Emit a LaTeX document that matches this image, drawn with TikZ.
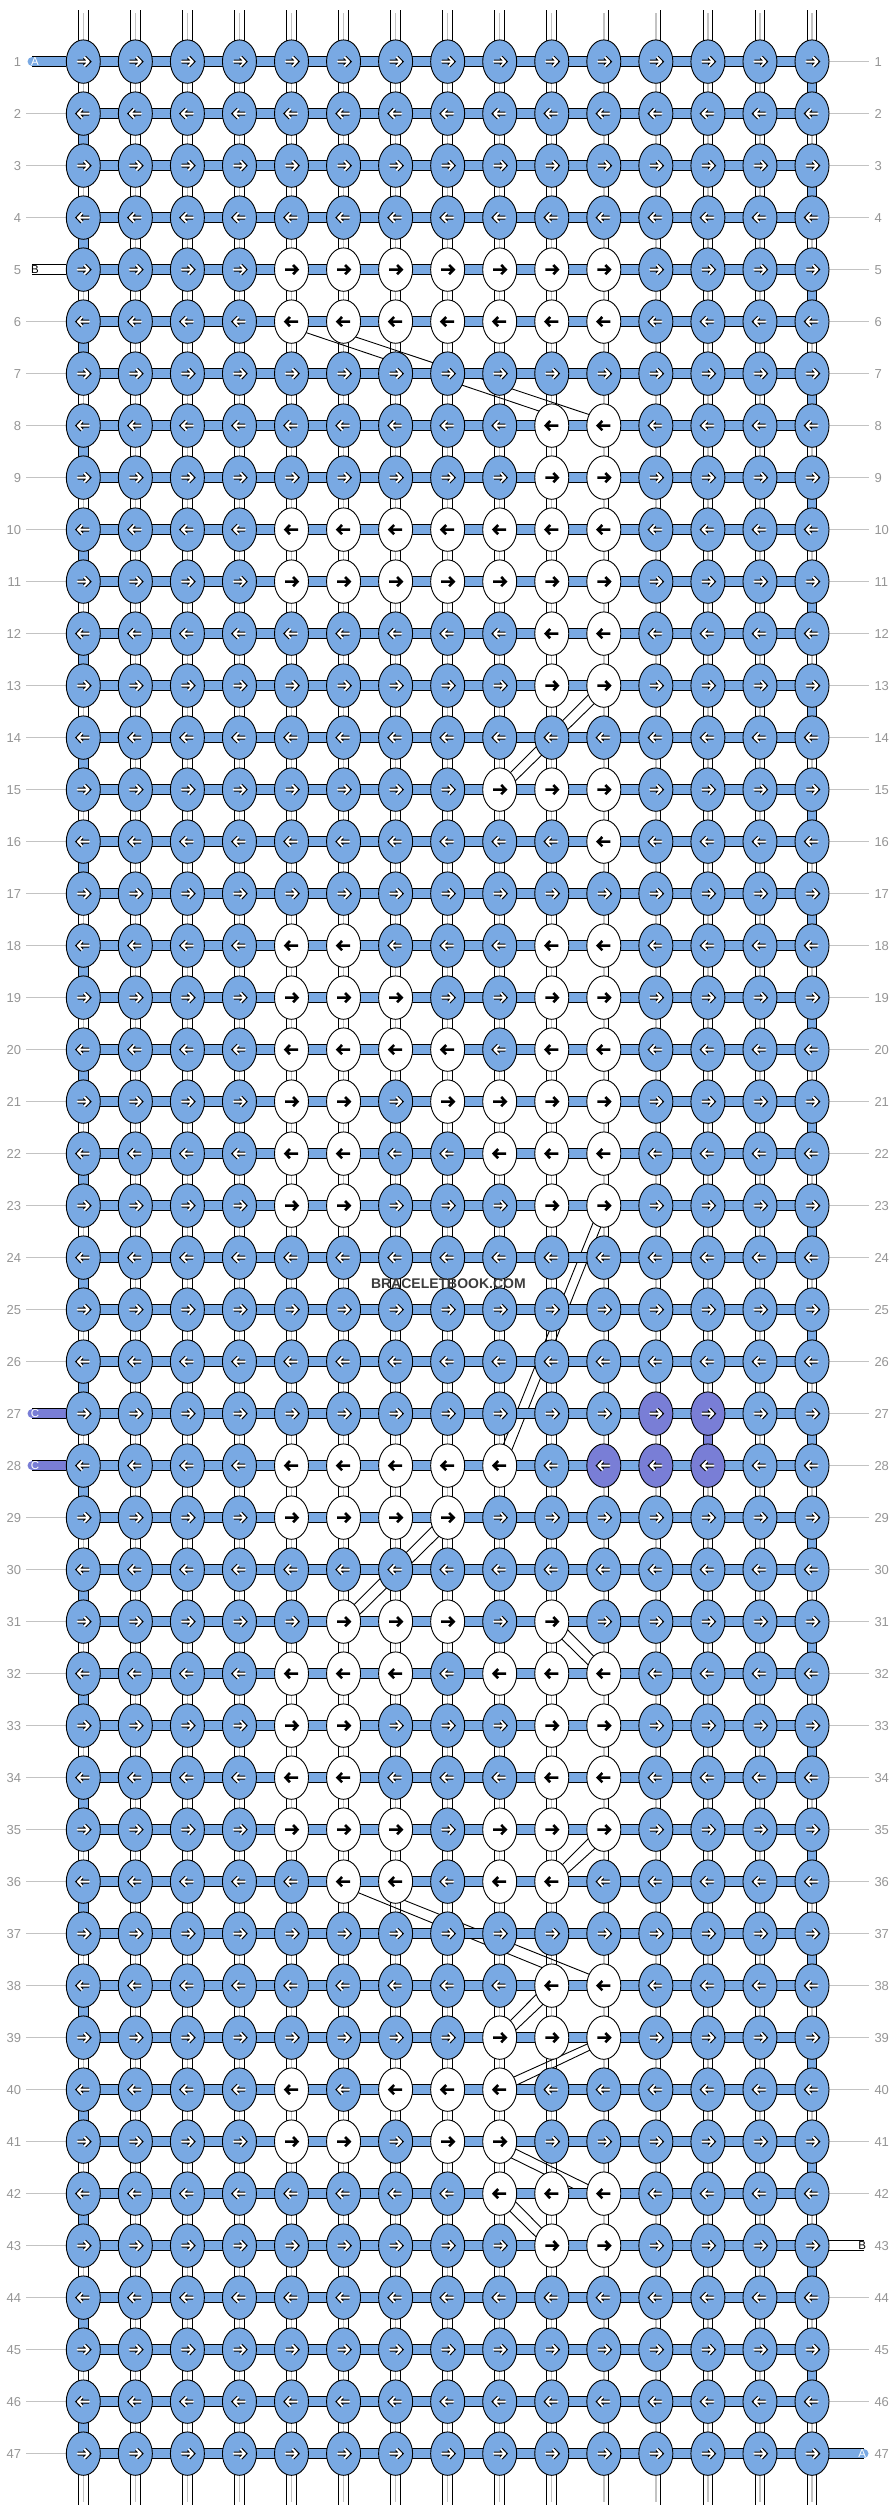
\documentclass[tikz,border=0pt]{standalone}
\usepackage{fontspec}
\setmainfont{Liberation Sans}
\usetikzlibrary{shapes.geometric}
\definecolor{blueA}{RGB}{121,169,227}
\definecolor{purpC}{RGB}{121,126,214}
\definecolor{lblgray}{RGB}{150,150,150}
\definecolor{linegray}{RGB}{195,195,195}
\definecolor{strgray}{RGB}{195,195,195}
\definecolor{wmgray}{RGB}{60,60,60}
\colorlet{fillB}{blueA}
\colorlet{fillW}{white}
\colorlet{fillP}{purpC}
\pgfdeclarelayer{lbg}
\pgfdeclarelayer{lstr}
\pgfdeclarelayer{ldiag}
\pgfdeclarelayer{lband}
\pgfsetlayers{lbg,lstr,ldiag,lband,main}
\def\setkind#1#2#3{\expandafter\gdef\csname kc#1-#2\endcsname{#3}}
\def\getkind#1#2{\ifcsname kc#1-#2\endcsname\csname kc#1-#2\endcsname\else B\fi}
\def\kindW{W}
\foreach \c in {5,...,11}{\setkind{5}{\c}{W}\setkind{6}{\c}{W}\setkind{10}{\c}{W}\setkind{11}{\c}{W}}
\foreach \r/\c in {8/10,8/11,9/10,9/11,12/10,12/11,13/10,13/11,15/9,15/10,15/11,16/11,
18/5,18/6,18/10,18/11,19/5,19/6,19/7,19/10,19/11,20/5,20/6,20/7,20/8,20/10,20/11,
21/5,21/6,21/8,21/9,21/10,21/11,22/5,22/6,22/9,22/10,22/11,23/5,23/6,23/10,23/11,
28/5,28/6,28/7,28/8,28/9,29/5,29/6,29/7,29/8,31/6,31/7,31/8,31/10,
32/5,32/6,32/7,32/9,32/10,32/11,33/5,33/6,33/10,33/11,34/5,34/6,34/10,34/11,
35/5,35/6,35/7,35/9,35/10,35/11,36/6,36/7,36/9,36/10,38/10,38/11,39/9,39/10,39/11,
40/5,40/7,40/8,40/9,41/5,41/6,41/8,41/9,42/9,42/10,42/11,43/10,43/11}{\setkind{\r}{\c}{W}}
\foreach \r/\c in {27/12,27/13,28/11,28/12,28/13}{\setkind{\r}{\c}{P}}

\begin{document}
\begin{tikzpicture}[x=1pt,y=-1pt,
  knot/.style={ellipse, draw=black, line width=0.9pt, minimum width=34pt, minimum height=43.4pt, inner sep=0pt, outer sep=0pt},
  arrowB/.style={draw=white, line width=1.9pt, line cap=round, line join=round, preaction={draw=black, line width=4.1pt}},
  arrowW/.style={draw=black, line width=2.6pt, line cap=butt, line join=miter},
  strandO/.style={draw=white, line width=8.8pt, line cap=round, preaction={draw=black, line width=10.6pt}},
  strandC/.style={draw=strgray, line width=1.4pt},
  bandA/.style={draw=blueA, line width=9.6pt, preaction={draw=black, line width=11.4pt}},
  bandW/.style={bandA, draw=white},
  bandP/.style={bandA, draw=purpC},
  vbarA/.style={draw=blueA, line width=8.8pt, preaction={draw=black, line width=10.6pt}},
  vbarP/.style={vbarA, draw=purpC},
  diag/.style={draw=black, line width=0.9pt},
  lbl/.style={text=lblgray, font=\fontsize{13}{13}\selectfont, inner sep=0pt},
  lblline/.style={draw=linegray, line width=1pt},
  stublbl/.style={font=\fontsize{11.5}{11.5}\selectfont, inner sep=0pt}
]
\begin{pgfonlayer}{lbg}
\fill[white] (0,0) rectangle (896,2516);
\end{pgfonlayer}
\useasboundingbox (0,0) rectangle (896,2516);

% knots, arrows, row labels
\foreach \r in {1,...,47}{
  \ifodd\r\relax \def\dir{1}\else \def\dir{-1}\fi
  \node[lbl, anchor=east] (ll\r) at (21.3,{61.6+52*(\r-1)}) {\r};
  \node[lbl, anchor=west] (rl\r) at (874.3,{61.6+52*(\r-1)}) {\r};
  \foreach \c in {1,...,15}{
    \edef\kind{\getkind{\r}{\c}}
    \node[knot, fill=fill\kind] (k\r-\c) at ({83.3+52.05*(\c-1)},{61.6+52*(\r-1)}) {};
    \ifx\kind\kindW
      \draw[arrowW, shift={(k\r-\c.center)}, xscale=\dir] (-6.5,0) -- (6,0) (1.5,-4.6) -- (6,0) -- (1.5,4.6);
    \else
      \draw[arrowB, shift={(k\r-\c.center)}, xscale=\dir] (-5.7,0) -- (5.5,0) (1.3,-4.3) -- (5.5,0) -- (1.3,4.3);
    \fi
  }
}

% vertical strings and label lines
\begin{pgfonlayer}{lstr}
\foreach \c in {1,...,15}{
  \coordinate (st\c) at ({83.3+52.05*(\c-1)},10.3);
  \coordinate (sb\c) at ({83.3+52.05*(\c-1)},2504.7);
  \coordinate (gt\c) at ({83.3+52.05*(\c-1)},13);
  \coordinate (gb\c) at ({83.3+52.05*(\c-1)},2502);
  \draw[strandO] (st\c) -- (sb\c);
  \draw[strandC] (gt\c) -- (gb\c);
}
\foreach \r in {2,3,4,6,7,...,26,29,30,...,47}{
  \coordinate (la\r) at (26,{61.6+52*(\r-1)});
  \draw[lblline] (la\r) -- (k\r-1);
}
\foreach \r in {1,...,42,44,45,46}{
  \coordinate (ra\r) at (869.3,{61.6+52*(\r-1)});
  \draw[lblline] (k\r-15) -- (ra\r);
}
\end{pgfonlayer}

% diagonal carried strands
\begin{pgfonlayer}{ldiag}
\draw[diag] (k6-5.323) -- (k8-10.131);
\draw[diag] (k6-6.308) -- (k8-11.143);
\draw[diag] (k13-11.211) -- (k15-9.58);
\draw[diag] (k13-11.242) -- (k15-9.29);
\draw[diag] (k23-11.238) -- (k28-9.80);
\draw[diag] (k23-11.262) -- (k28-9.52);
\draw[diag] (k29-8.210) -- (k31-6.58);
\draw[diag] (k29-8.245) -- (k31-6.24);
\draw[diag] (k31-10.333) -- (k32-11.120);
\draw[diag] (k31-10.300) -- (k32-11.151);
\draw[diag] (k35-11.210) -- (k36-10.58);
\draw[diag] (k35-11.245) -- (k36-10.28);
\draw[diag] (k36-6.323) -- (k38-10.118);
\draw[diag] (k36-7.295) -- (k38-11.142);
\draw[diag] (k38-10.210) -- (k39-9.58);
\draw[diag] (k38-10.245) -- (k39-9.25);
\draw[diag] (k39-11.201) -- (k40-9.42);
\draw[diag] (k39-11.222) -- (k40-9.15);
\draw[diag] (k41-9.335) -- (k42-11.150);
\draw[diag] (k41-9.305) -- (k42-11.185);
\draw[diag] (k42-9.333) -- (k43-10.120);
\draw[diag] (k42-9.300) -- (k43-10.151);
\end{pgfonlayer}

% working thread: edge turns, row bands, stubs
\begin{pgfonlayer}{lband}
\foreach \r in {2,4,...,46}{
  \pgfmathtruncatemacro\rn{\r+1}
  \draw[vbarA] (k\r-1) -- (k\rn-1);
}
\foreach \r in {1,3,...,45}{
  \pgfmathtruncatemacro\rn{\r+1}
  \draw[vbarA] (k\r-15) -- (k\rn-15);
}
\draw[vbarP] (k27-13) -- (k28-13);
\foreach \r in {1,...,47}{
  \draw[bandA] (k\r-1) -- (k\r-15);
}
\coordinate (sl1) at (32.3,61.6);
\coordinate (sl5) at (32.3,269.6);
\coordinate (sl27) at (32.3,1413.6);
\coordinate (sl28) at (32.3,1465.6);
\coordinate (sr43) at (863.7,2245.6);
\coordinate (sr47) at (863.7,2453.6);
\draw[bandA, line cap=round] (sl1) -- (k1-1);
\draw[bandW, line cap=round] (sl5) -- (k5-1);
\draw[bandP, line cap=round] (sl27) -- (k27-1);
\draw[bandP, line cap=round] (sl28) -- (k28-1);
\draw[bandW, line cap=round] (k43-15) -- (sr43);
\draw[bandA, line cap=round] (k47-15) -- (sr47);
\end{pgfonlayer}

\node[stublbl, text=white] (tA1) at (35,61.8) {A};
\node[stublbl, text=black] (tB5) at (35,269.8) {B};
\node[stublbl, text=white] (tC27) at (35,1413.8) {C};
\node[stublbl, text=white] (tC28) at (35,1465.8) {C};
\node[stublbl, text=black] (tB43) at (862.3,2245.8) {B};
\node[stublbl, text=white] (tA47) at (862.3,2453.8) {A};

\node[font=\fontsize{14}{14}\selectfont\bfseries, text=wmgray, inner sep=0pt] (wm) at (448.4,1283.6) {BRACELETBOOK.COM};
\end{tikzpicture}
\end{document}
